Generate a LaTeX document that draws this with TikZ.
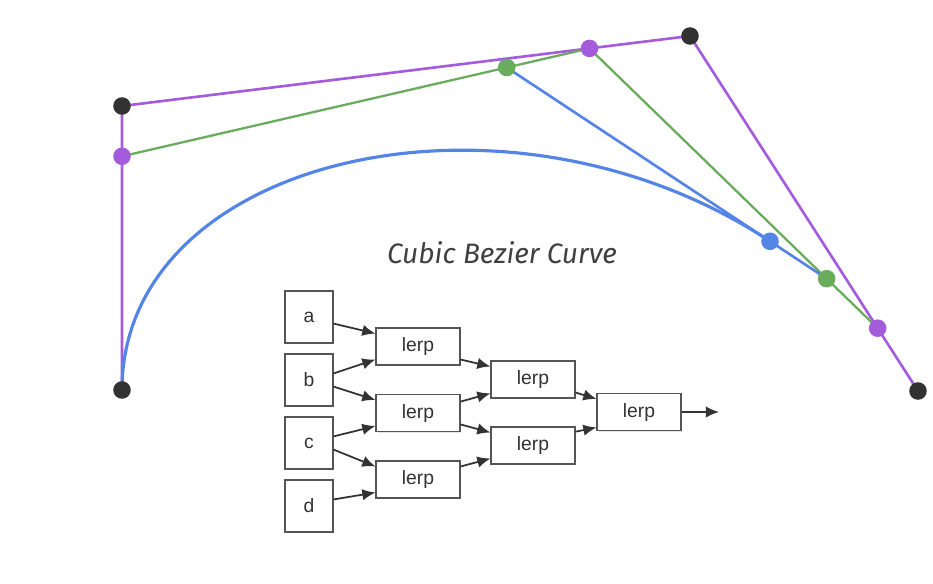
\documentclass[tikz,border=0pt]{standalone}
\usepackage{fontspec}
\setmainfont{Liberation Sans}
\newfontfamily\titlefont{Fira Sans}
\usetikzlibrary{calc,arrows.meta,shadows}
\definecolor{ctrlpurple}{RGB}{164,92,220}
\definecolor{ctrlgreen}{RGB}{104,172,92}
\definecolor{curveblue}{RGB}{84,132,230}
\definecolor{ptdark}{RGB}{50,50,50}
\definecolor{boxline}{RGB}{85,85,85}
\newcommand{\tval}{0.823}
\tikzset{
  inbox/.style={draw=boxline,line width=0.9pt,fill=white,minimum width=27pt,
    minimum height=29.5pt,inner sep=0pt,text=black!80,
    font=\fontsize{11}{13}\selectfont,
    drop shadow={shadow xshift=0.8pt,shadow yshift=-0.8pt,opacity=0.2}},
  lerpbox/.style={inbox,minimum width=47.5pt,minimum height=21pt},
  wire/.style={draw=black!80,line width=1pt,-{Latex[length=7.5pt,width=6.5pt]}},
  ptdot/.style={fill=#1},
}

\begin{document}
\begin{tikzpicture}[x=0.02cm,y=-0.02cm]
\fill[white] (0,0) rectangle (933,583);
\useasboundingbox (0,0) rectangle (933,583);

% control points and de Casteljau steps
\coordinate (p0) at (122,390);
\coordinate (p1) at (122,106);
\coordinate (p2) at (690,36);
\coordinate (p3) at (918,391);
\coordinate (pu1) at ($(p0)!\tval!(p1)$);
\coordinate (pu2) at ($(p1)!\tval!(p2)$);
\coordinate (pu3) at ($(p2)!\tval!(p3)$);
\coordinate (gr1) at ($(pu1)!\tval!(pu2)$);
\coordinate (gr2) at ($(pu2)!\tval!(pu3)$);
\coordinate (bl) at ($(gr1)!\tval!(gr2)$);

\draw[ctrlpurple,line width=1.5pt] (p0) -- (p1) -- (p2) -- (p3);
\draw[ctrlgreen,line width=1.3pt] (pu1) -- (pu2) -- (pu3);
\draw[curveblue,line width=1.5pt] (gr1) -- (gr2);
\draw[curveblue,line width=1.8pt] (p0) .. controls (pu1) and (gr1) .. (bl);

\foreach \pt in {p0,p1,p2,p3}
  \fill[ptdot=ptdark] (\pt) circle[radius=5pt];
\foreach \pt in {pu1,pu2,pu3}
  \fill[ptdot=ctrlpurple] (\pt) circle[radius=5pt];
\foreach \pt in {gr1,gr2}
  \fill[ptdot=ctrlgreen] (\pt) circle[radius=5pt];
\fill[ptdot=curveblue] (bl) circle[radius=5pt];

\node[font=\titlefont\itshape\fontsize{16}{19}\selectfont,text=black!75] (title) at (502,253) {Cubic Bezier Curve};

% lerp network
\node[inbox] (a) at (309,317) {a};
\node[inbox] (b) at (309,380) {b};
\node[inbox] (c) at (309,443) {c};
\node[inbox] (d) at (309,506) {d};
\node[lerpbox] (l1) at (418,346.5) {lerp};
\node[lerpbox] (l2) at (418,413) {lerp};
\node[lerpbox] (l3) at (418,479.5) {lerp};
\node[lerpbox] (l4) at (533,379.5) {lerp};
\node[lerpbox] (l5) at (533,445.5) {lerp};
\node[lerpbox] (l6) at (639,412) {lerp};
\coordinate (out) at (719,412);

\draw[wire] (a.-15) -- (l1.163);
\draw[wire] (b.15) -- (l1.197);
\draw[wire] (b.-15) -- (l2.163);
\draw[wire] (c.15) -- (l2.197);
\draw[wire] (c.-15) -- (l3.163);
\draw[wire] (d.15) -- (l3.197);
\draw[wire] (l1.-17) -- (l4.163);
\draw[wire] (l2.15) -- (l4.198);
\draw[wire] (l2.-15) -- (l5.163);
\draw[wire] (l3.17) -- (l5.197);
\draw[wire] (l4.-17) -- (l6.163);
\draw[wire] (l5.18) -- (l6.200);
\draw[wire] (l6.east) -- (out);
\end{tikzpicture}
\end{document}
